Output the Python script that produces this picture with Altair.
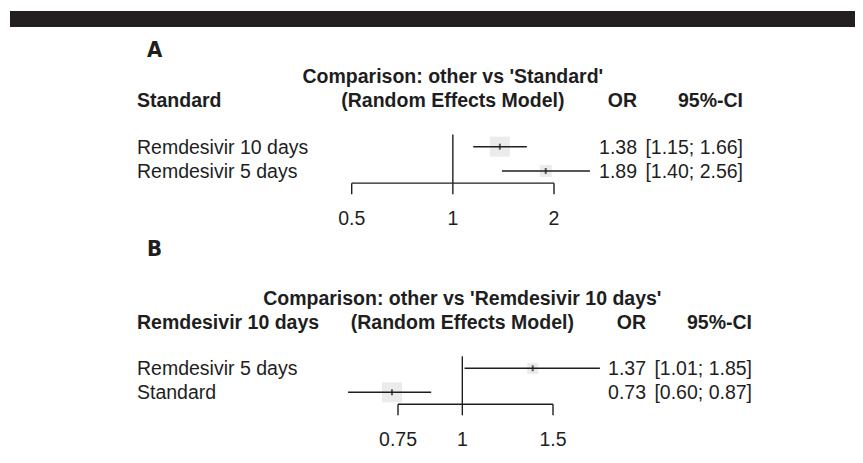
import altair as alt
import pandas as pd

# ---------------- data ----------------
# Panel A: comparison vs 'Standard'
labels_a = ["Remdesivir 10 days", "Remdesivir 5 days"]
or_a = [1.38, 1.89]
lo_a = [1.15, 1.40]
hi_a = [1.66, 2.56]
weight_a = [1.0, 0.36]
ticks_a = [0.5, 1, 2]
tick_text_a = ["0.5", "1", "2"]

# Panel B: comparison vs 'Remdesivir 10 days'
labels_b = ["Remdesivir 5 days", "Standard"]
or_b = [1.37, 0.73]
lo_b = [1.01, 0.60]
hi_b = [1.85, 0.87]
weight_b = [0.30, 1.0]
ticks_b = [0.75, 1, 1.5]
tick_text_b = ["0.75", "1", "1.5"]

ref_value = 1

INK = "#1e1e1e"
FONT = "Liberation Sans, Arial, sans-serif"
LETTER_FONT = "'DejaVu Sans Condensed', 'DejaVu Sans', sans-serif"
FS = 19.5


def panel(letter, reference, labels, ors, los, his, weights, ticks, tick_text,
          xrange, yrange, letter_y, head_y, col_or, col_ci):
    n = len(labels)
    df = pd.DataFrame({
        "row": list(range(1, n + 1)),
        "label": labels,
        "or": ors,
        "lo": los,
        "hi": his,
        "w": weights,
    })
    df["or_txt"] = [f"{v:.2f}" for v in ors]
    df["ci_txt"] = [f"[{a:.2f}; {b:.2f}]" for a, b in zip(los, his)]

    xs = alt.Scale(type="log", domain=[min(ticks), max(ticks)], range=xrange, nice=False)
    ys = alt.Scale(domain=[1, n], range=yrange, zero=False, nice=False)

    def X(f):
        return alt.X(f, scale=xs, axis=None)

    def Y(f):
        return alt.Y(f, scale=ys, axis=None)

    ref_df = pd.DataFrame({"v": [ref_value], "top": [0.5], "bot": [n + 0.5]})
    axis_df = pd.DataFrame({"lo": [min(ticks)], "hi": [max(ticks)], "ax": [n + 0.5]})
    tick_df = pd.DataFrame({"t": ticks, "lab": tick_text, "ax": [n + 0.5] * len(ticks)})
    head_df = pd.DataFrame({
        "v": [ref_value],
        "title1": [f"Comparison: other vs '{reference}'"],
        "title2": ["(Random Effects Model)"],
        "ref": [reference],
        "or_h": ["OR"],
        "ci_h": ["95%-CI"],
        "letter": [letter],
    })

    layers = []
    # weight squares
    layers.append(alt.Chart(df).mark_square(color="#ebebeb", opacity=1, filled=True).encode(
        x=X("or:Q"), y=Y("row:Q"),
        size=alt.Size("w:Q", scale=alt.Scale(domain=[0, 1], range=[0, 400]), legend=None)))
    # CI lines
    layers.append(alt.Chart(df).mark_rule(color=INK, strokeWidth=1.4).encode(
        x=X("lo:Q"), x2="hi:Q", y=Y("row:Q")))
    # point estimate ticks
    layers.append(alt.Chart(df).mark_tick(orient="vertical", size=6, thickness=2, color=INK).encode(
        x=X("or:Q"), y=Y("row:Q")))
    # reference line
    layers.append(alt.Chart(ref_df).mark_rule(color=INK, strokeWidth=1.4).encode(
        x=X("v:Q"), y=Y("top:Q"), y2="bot:Q"))
    # axis line
    layers.append(alt.Chart(axis_df).mark_rule(color=INK, strokeWidth=1.4).encode(
        x=X("lo:Q"), x2="hi:Q", y=Y("ax:Q")))
    # axis ticks
    layers.append(alt.Chart(tick_df).mark_rule(color=INK, strokeWidth=1.4, y2Offset=11).encode(
        x=X("t:Q"), y=Y("ax:Q"), y2="ax:Q"))
    # tick labels
    layers.append(alt.Chart(tick_df).mark_text(font=FONT, fontSize=FS, color=INK, align="center",
                                               baseline="alphabetic", dy=42).encode(
        x=X("t:Q"), y=Y("ax:Q"), text="lab:N"))
    # row labels and values
    layers.append(alt.Chart(df).mark_text(font=FONT, fontSize=FS, color=INK, align="left",
                                          baseline="alphabetic", dy=7).encode(
        x=alt.value(129), y=Y("row:Q"), text="label:N"))
    layers.append(alt.Chart(df).mark_text(font=FONT, fontSize=FS, color=INK, align="right",
                                          baseline="alphabetic", dy=7).encode(
        x=alt.value(col_or), y=Y("row:Q"), text="or_txt:N"))
    layers.append(alt.Chart(df).mark_text(font=FONT, fontSize=FS, color=INK, align="right",
                                          baseline="alphabetic", dy=7).encode(
        x=alt.value(col_ci), y=Y("row:Q"), text="ci_txt:N"))
    # headers
    bold = dict(font=FONT, fontSize=FS, fontWeight="bold", color=INK, baseline="alphabetic")
    layers.append(alt.Chart(head_df).mark_text(align="center", **bold).encode(
        x=X("v:Q"), y=alt.value(head_y[0]), text="title1:N"))
    layers.append(alt.Chart(head_df).mark_text(align="center", **bold).encode(
        x=X("v:Q"), y=alt.value(head_y[1]), text="title2:N"))
    layers.append(alt.Chart(head_df).mark_text(align="left", **bold).encode(
        x=alt.value(129), y=alt.value(head_y[1]), text="ref:N"))
    layers.append(alt.Chart(head_df).mark_text(align="right", **bold).encode(
        x=alt.value(col_or), y=alt.value(head_y[1]), text="or_h:N"))
    layers.append(alt.Chart(head_df).mark_text(align="right", **bold).encode(
        x=alt.value(col_ci), y=alt.value(head_y[1]), text="ci_h:N"))
    # panel letter
    layers.append(alt.Chart(head_df).mark_text(
        font=LETTER_FONT, fontSize=22, fontWeight="bold", color=INK,
        align="left", baseline="alphabetic").encode(
        x=alt.value(139), y=alt.value(letter_y), text="letter:N"))
    return layers


layers_a = panel("A", "Standard", labels_a, or_a, lo_a, hi_a, weight_a, ticks_a, tick_text_a,
                 xrange=[343.7, 546], yrange=[138.7, 163], letter_y=49, head_y=[75, 99],
                 col_or=629, col_ci=735)
layers_b = panel("B", "Remdesivir 10 days", labels_b, or_b, lo_b, hi_b, weight_b, ticks_b,
                 tick_text_b, xrange=[390, 545], yrange=[360.3, 384.3], letter_y=248,
                 head_y=[297, 321], col_or=638, col_ci=744)

# dark banner at the top of the figure
banner = alt.Chart(pd.DataFrame({"k": [0]})).mark_rect(color="#231f20").encode(
    x=alt.value(2), x2=alt.value(847), y=alt.value(3), y2=alt.value(19))

chart = alt.layer(banner, *layers_a, *layers_b).resolve_scale(
    x="independent", y="independent", size="independent"
).properties(
    width=847, height=452, padding=0,
    autosize=alt.AutoSizeParams(type="none"),
    background="white",
).configure_view(stroke=None)

chart.save("out.html", embed_options={"renderer": "svg", "actions": False})
